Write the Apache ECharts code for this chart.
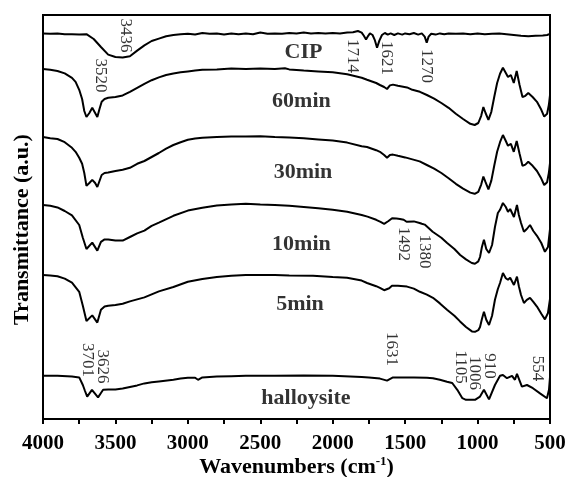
<!DOCTYPE html>
<html><head><meta charset="utf-8">
<script src="https://cdn.jsdelivr.net/npm/echarts@6/dist/echarts.min.js"></script>
<style>html,body{margin:0;padding:0;background:#fff}#c{width:565px;height:477px}</style>
</head><body><div id="c"></div>
<script>
// x-axis tick labels (wavenumber, cm-1)
const xTicks = [4000, 3500, 3000, 2500, 2000, 1500, 1000, 500];

// spectra, [wavenumber, stacked transmittance (a.u.)]
const cip = [[4000,96.4],[3950,96.3],[3900,96.4],[3850,96.2],[3800,96.2],[3750,96.1],[3700,96.2],[3650,95.0],[3600,93.0],[3550,91.1],[3500,90.5],[3450,90.4],[3400,90.7],[3350,92.1],[3300,93.4],[3250,94.5],[3200,95.1],[3150,95.7],[3100,96.0],[3050,96.2],[3000,96.3],[2950,96.1],[2900,96.5],[2850,96.3],[2800,96.4],[2750,96.1],[2700,96.4],[2650,96.2],[2600,96.4],[2550,96.2],[2500,96.6],[2450,96.3],[2400,96.4],[2350,96.3],[2300,96.5],[2250,96.4],[2200,96.6],[2150,96.4],[2100,96.5],[2050,96.4],[2000,96.5],[1950,96.4],[1900,96.6],[1860,96.7],[1826,97.0],[1800,96.6],[1785,95.8],[1770,94.9],[1755,95.8],[1743,96.4],[1725,96.0],[1710,94.8],[1694,92.8],[1678,94.6],[1660,96.0],[1640,96.5],[1620,96.1],[1600,96.4],[1575,96.0],[1550,96.4],[1520,96.1],[1500,96.4],[1470,96.2],[1440,96.5],[1410,96.1],[1385,96.4],[1365,95.6],[1351,94.1],[1338,95.6],[1320,96.3],[1290,96.1],[1260,96.4],[1230,96.2],[1200,96.4],[1150,96.3],[1100,96.4],[1050,96.2],[1000,96.4],[950,96.2],[900,96.3],[850,96.4],[800,96.2],[750,96.0],[700,95.8],[650,95.7],[600,95.8],[550,95.9],[520,96.0],[500,96.3]];

const m60 = [[4000,87.5],[3950,87.3],[3900,87.0],[3850,86.4],[3800,85.3],[3775,84.3],[3750,82.3],[3730,80.0],[3715,77.0],[3700,75.5],[3680,76.5],[3660,77.8],[3640,76.5],[3625,75.5],[3610,77.5],[3595,79.3],[3575,80.0],[3550,80.3],[3500,80.5],[3450,80.9],[3400,81.8],[3350,82.8],[3300,83.8],[3250,84.7],[3200,85.4],[3150,86.0],[3100,86.4],[3050,86.7],[3000,86.9],[2950,87.1],[2900,87.3],[2800,87.4],[2700,87.6],[2600,87.5],[2500,87.6],[2400,87.5],[2330,87.7],[2300,87.4],[2200,87.1],[2100,86.9],[2000,86.7],[1900,86.2],[1800,85.3],[1763,84.8],[1700,84.0],[1674,83.5],[1645,83.0],[1625,82.5],[1605,83.4],[1584,83.6],[1550,83.3],[1487,82.9],[1450,82.3],[1398,81.8],[1350,81.0],[1300,80.1],[1250,79.0],[1200,77.8],[1150,76.3],[1100,75.0],[1050,73.8],[1020,73.5],[995,74.0],[975,75.8],[960,78.0],[945,76.5],[925,74.8],[905,76.8],[885,80.5],[865,84.0],[845,86.3],[825,87.8],[805,86.5],[790,85.5],[770,86.0],[750,84.0],[730,87.0],[710,83.5],[690,80.5],[670,80.8],[650,81.5],[620,80.5],[590,79.3],[560,77.3],[540,75.6],[520,76.3],[508,78.5],[500,81.0]];

const m30 = [[4000,70.5],[3950,70.2],[3900,70.0],[3850,69.2],[3800,67.8],[3775,66.8],[3750,65.3],[3730,63.8],[3715,61.5],[3700,58.3],[3680,59.0],[3660,59.8],[3640,59.0],[3625,58.0],[3610,59.5],[3595,61.0],[3575,61.5],[3550,61.6],[3500,62.0],[3450,62.3],[3400,62.8],[3350,63.8],[3300,64.5],[3250,65.5],[3200,66.5],[3150,67.6],[3100,68.5],[3050,69.2],[3000,69.8],[2950,70.1],[2900,70.3],[2800,70.5],[2700,70.6],[2600,70.6],[2500,70.7],[2400,70.5],[2300,70.4],[2200,70.2],[2100,69.9],[2000,69.6],[1900,69.1],[1800,68.2],[1763,68.0],[1700,67.2],[1674,66.8],[1645,66.0],[1625,65.3],[1605,66.0],[1584,66.1],[1550,65.8],[1500,65.4],[1450,64.9],[1400,64.4],[1350,63.5],[1300,62.6],[1250,61.5],[1200,60.2],[1150,58.8],[1100,57.6],[1050,56.6],[1020,56.3],[995,56.8],[975,58.6],[960,60.6],[945,59.2],[925,57.4],[905,59.6],[885,63.3],[865,66.8],[845,69.2],[825,71.0],[805,69.5],[790,68.3],[770,68.8],[750,66.8],[730,69.5],[710,66.3],[690,63.3],[670,63.6],[650,64.3],[620,63.3],[590,62.0],[560,60.1],[540,58.5],[520,59.2],[508,61.5],[500,64.0]];

const m10 = [[4000,53.5],[3950,53.3],[3900,52.9],[3850,52.0],[3800,50.9],[3750,48.5],[3725,45.3],[3700,42.5],[3690,42.3],[3660,44.1],[3625,42.1],[3600,44.3],[3575,44.9],[3550,44.9],[3500,44.6],[3450,44.6],[3400,45.5],[3350,46.4],[3300,47.1],[3250,48.3],[3200,49.1],[3100,50.8],[3000,52.1],[2900,52.8],[2800,53.4],[2700,53.6],[2600,53.8],[2500,53.6],[2400,53.5],[2300,53.3],[2200,53.0],[2100,52.7],[2000,52.3],[1900,51.8],[1800,51.0],[1760,50.6],[1700,49.8],[1670,49.3],[1645,48.8],[1632,48.5],[1615,49.5],[1590,50.2],[1560,50.1],[1536,50.0],[1510,49.8],[1490,49.3],[1480,49.8],[1440,49.4],[1400,49.0],[1385,48.8],[1377,48.3],[1365,48.6],[1340,47.8],[1310,46.8],[1250,45.3],[1210,44.0],[1160,42.5],[1120,41.0],[1080,39.9],[1040,39.0],[1018,38.8],[995,39.4],[983,40.5],[970,43.0],[956,44.8],[940,42.5],[921,41.5],[900,43.5],[880,48.0],[860,51.5],[845,52.3],[825,54.0],[805,53.0],[790,51.8],[775,52.5],[762,52.5],[749,50.5],[728,53.5],[715,51.0],[700,49.0],[680,46.8],[660,47.5],[638,48.5],[615,47.0],[590,45.8],[560,44.0],[535,41.8],[514,43.0],[500,47.5]];

const m5 = [[4000,36.0],[3950,35.9],[3900,35.7],[3850,35.1],[3800,34.1],[3750,31.8],[3725,28.3],[3700,24.5],[3690,24.4],[3660,25.9],[3625,24.1],[3600,27.3],[3575,28.1],[3550,28.3],[3500,28.5],[3450,28.8],[3400,29.4],[3350,29.9],[3300,30.4],[3200,31.9],[3100,33.0],[3000,34.3],[2900,35.0],[2800,35.5],[2700,35.8],[2600,36.0],[2500,36.0],[2400,36.0],[2300,35.9],[2136,35.8],[2000,35.5],[1901,35.3],[1800,34.6],[1763,34.0],[1700,33.2],[1674,32.8],[1645,32.2],[1632,31.8],[1610,32.7],[1591,33.3],[1550,33.3],[1487,33.1],[1440,32.6],[1398,31.8],[1350,31.1],[1308,30.3],[1260,28.9],[1211,27.3],[1160,25.8],[1121,24.4],[1080,23.0],[1039,21.9],[1018,21.8],[995,22.2],[983,23.0],[970,25.0],[956,26.8],[940,24.8],[921,23.5],[900,25.8],[880,29.8],[860,32.5],[845,34.0],[825,36.5],[805,35.2],[790,34.8],[775,35.3],[762,35.2],[749,33.5],[728,35.6],[715,33.2],[700,31.0],[680,29.0],[660,29.8],[638,30.3],[615,29.3],[590,28.1],[560,26.3],[535,24.9],[514,26.5],[500,30.0]];

const hal = [[4000,10.8],[3900,10.8],[3800,10.6],[3750,10.4],[3725,8.5],[3710,7.0],[3695,5.6],[3662,7.3],[3620,5.4],[3600,6.5],[3585,7.3],[3550,7.4],[3500,7.4],[3450,7.6],[3400,8.0],[3350,8.4],[3300,8.9],[3250,9.2],[3200,9.4],[3100,9.8],[3050,10.1],[3000,10.3],[2950,10.3],[2930,9.8],[2900,10.4],[2800,10.6],[2700,10.7],[2600,10.8],[2400,10.8],[2200,10.9],[2000,10.8],[1800,10.5],[1750,10.4],[1674,10.1],[1625,9.6],[1584,10.4],[1500,10.4],[1439,10.4],[1350,10.3],[1308,10.2],[1260,9.8],[1211,9.3],[1175,9.0],[1140,7.3],[1105,5.2],[1080,4.8],[1018,4.8],[983,5.6],[956,7.3],[921,4.9],[880,8.5],[845,10.8],[825,11.0],[797,10.2],[762,10.8],[742,9.8],[728,11.3],[694,8.1],[659,8.5],[618,7.7],[569,6.4],[521,5.2],[507,7.3],[500,10.5]];

// annotations
const peakText = ['3436','3520','1714','1621','1270','1492','1380','3701','3626','1631','1105','1006','910','554'];
const peakAt = [[3434,95.9],[3600,85.9],[1864,90.75],[1632,90.25],[1356,88.25],[1515,43.75],[1370,41.9],[3693,14.75],[3589,13.1],[1591,17.5],[1121,13.0],[1018,11.5],[918,13.25],[586,12.6]];
const curveNames = ['CIP','60min','30min','10min','5min','halloysite'];
const nameAt = [[2202,91.7],[2216,79.3],[2205,61.6],[2216,43.75],[2226,28.75],[2185,5.25]];

const serif = "'Liberation Serif','Times New Roman',serif";
const spectra = [cip, m60, m30, m10, m5, hal];

const chart = echarts.init(document.getElementById('c'), null, {renderer: 'canvas'});
const lineSeries = spectra.map((d, i) => ({
  type: 'line', name: curveNames[i], data: d, showSymbol: false, symbol: 'none',
  lineStyle: {color: '#000', width: 2}, silent: true, z: 3
}));
const labelSeries = [{
  type: 'scatter', symbolSize: 1, itemStyle: {color: 'rgba(0,0,0,0)'}, silent: true, z: 5,
  data: peakText.map((t, i) => ({name: t, value: peakAt[i]})),
  label: {show: true, position: 'inside', rotate: -90, formatter: '{b}', color: '#000',
          fontFamily: serif, fontSize: 17, align: 'center', verticalAlign: 'middle'}
}, {
  type: 'scatter', symbolSize: 1, itemStyle: {color: 'rgba(0,0,0,0)'}, silent: true, z: 5,
  data: curveNames.map((t, i) => ({name: t, value: nameAt[i]})),
  label: {show: true, position: 'inside', formatter: '{b}', color: '#000',
          fontFamily: serif, fontSize: 22, fontWeight: 'bold', align: 'center', verticalAlign: 'middle'}
}];

chart.setOption({
  animation: false,
  backgroundColor: '#fff',
  grid: {left: 43, right: 15, top: 15, bottom: 58, show: true, borderColor: '#000', borderWidth: 2,
         backgroundColor: 'transparent', containLabel: false, outerBoundsMode: 'none'},
  xAxis: {
    type: 'value', inverse: true, min: xTicks[xTicks.length - 1], max: xTicks[0], interval: 500,
    name: 'Wavenumbers (cm{sup|-1})', nameLocation: 'middle', nameGap: 36, nameMoveOverlap: false,
    nameTextStyle: {color: '#000', fontFamily: serif, fontSize: 22, fontWeight: 'bold',
      rich: {sup: {fontSize: 13, fontWeight: 'bold', fontFamily: serif, color: '#000', padding: [0, 0, 12, 0]}}},
    axisLine: {show: true, lineStyle: {color: '#000', width: 2}},
    axisTick: {show: true, inside: false, length: 5, lineStyle: {color: '#000', width: 2}},
    minorTick: {show: true, splitNumber: 2, length: 5, lineStyle: {color: '#000', width: 2}},
    axisLabel: {color: '#000', fontFamily: serif, fontSize: 21, fontWeight: 'bold', margin: 14,
                formatter: v => String(v), hideOverlap: false},
    splitLine: {show: false}
  },
  yAxis: {
    type: 'value', min: 0, max: 101,
    name: 'Transmittance (a.u.)', nameLocation: 'middle', nameGap: 10, nameMoveOverlap: false,
    nameTextStyle: {color: '#000', fontFamily: serif, fontSize: 22, fontWeight: 'bold', padding: [0, 25, 0, 0]},
    axisLine: {show: true, lineStyle: {color: '#000', width: 2}},
    axisTick: {show: false}, axisLabel: {show: false}, splitLine: {show: false}
  },
  series: lineSeries.concat(labelSeries)
});
</script></body></html>
